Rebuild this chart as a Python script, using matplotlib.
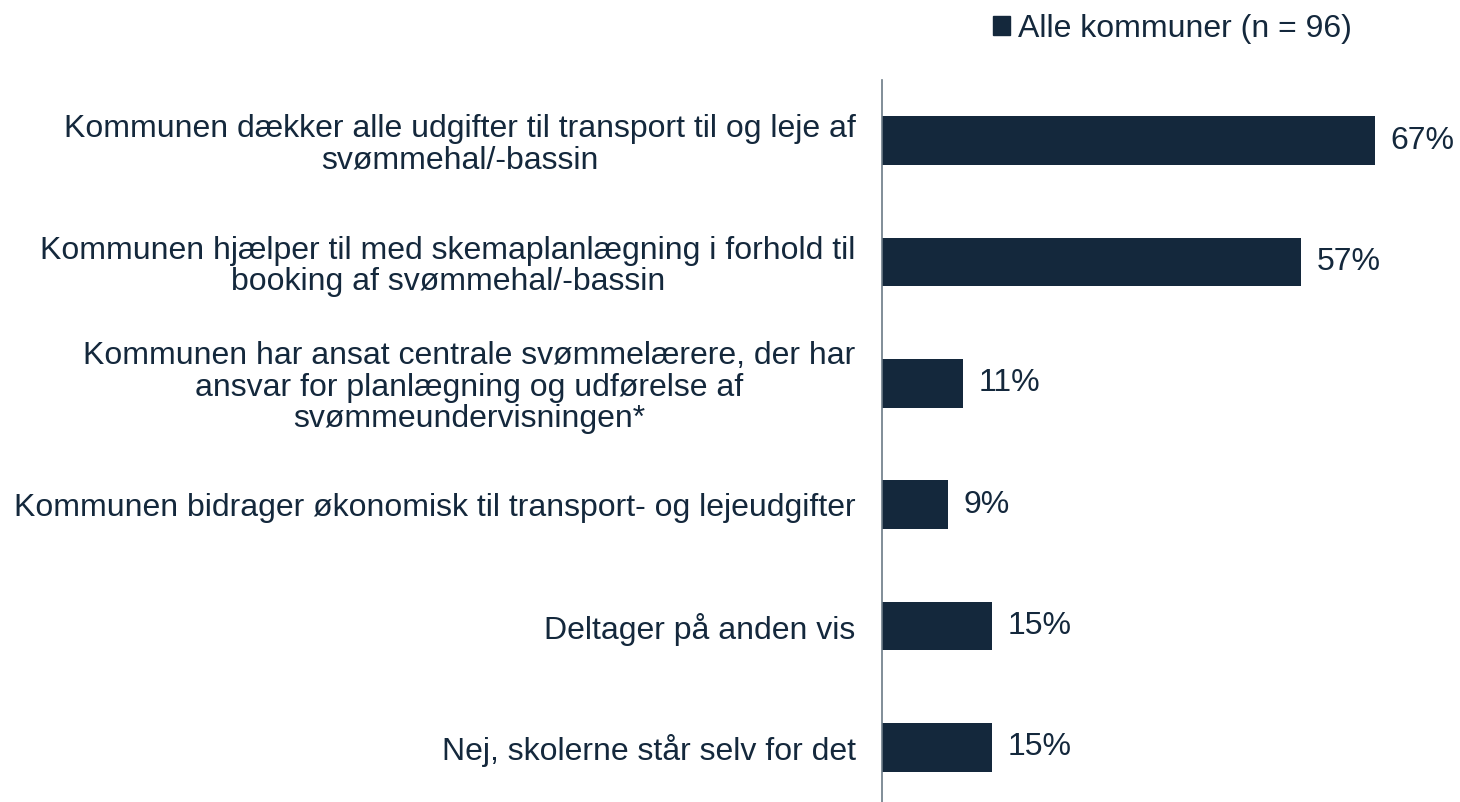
import matplotlib.pyplot as plt
from matplotlib.patches import Patch

# Chart data
labels = [
    'Kommunen dækker alle udgifter til transport til og leje af\nsvømmehal/-bassin',
    'Kommunen hjælper til med skemaplanlægning i forhold til\nbooking af svømmehal/-bassin',
    'Kommunen har ansat centrale svømmelærere, der har\nansvar for planlægning og udførelse af\nsvømmeundervisningen*',
    'Kommunen bidrager økonomisk til transport- og lejeudgifter',
    'Deltager på anden vis',
    'Nej, skolerne står selv for det',
]
values = [67, 57, 11, 9, 15, 15]
series_name = 'Alle kommuner (n = 96)'

navy = '#14283c'
axis_grey = '#6b7a86'
plt.rcParams['font.family'] = ['Liberation Sans', 'DejaVu Sans']
fs = 23

fig = plt.figure(figsize=(14.6, 8.02), dpi=100)
# axes runs a bit past the bottom edge, as in the reference
ax = fig.add_axes([882 / 1460, -6 / 802, 1 - 882 / 1460, 728 / 802])

ypos = list(range(len(values)))
ax.barh(ypos, values, height=0.4, color=navy)
ax.set_ylim(len(values) - 0.5, -0.5)
ax.set_xlim(0, 78.6)

ax.set_yticks(ypos)
ax.set_yticklabels(labels, fontsize=fs, color=navy, multialignment='center',
                   linespacing=1.07)
ax.tick_params(axis='y', length=0, pad=19)
ax.tick_params(axis='x', bottom=False, labelbottom=False)

for s in ['top', 'right', 'bottom']:
    ax.spines[s].set_visible(False)
ax.spines['left'].set_color(axis_grey)
ax.spines['left'].set_linewidth(1.2)

for y, v in zip(ypos, values):
    ax.annotate('%d%%' % v, xy=(v, y), xytext=(11, 0), textcoords='offset points',
                ha='left', va='center', fontsize=fs, color=navy)

fig.legend(handles=[Patch(color=navy, label=series_name)], loc='center left',
           bbox_to_anchor=(980 / 1460, 1 - 29 / 802), frameon=False, fontsize=fs,
           handlelength=0.55, handleheight=0.55, handletextpad=0.25,
           labelcolor=navy, borderaxespad=0)

fig.savefig('out.png', dpi=100)
